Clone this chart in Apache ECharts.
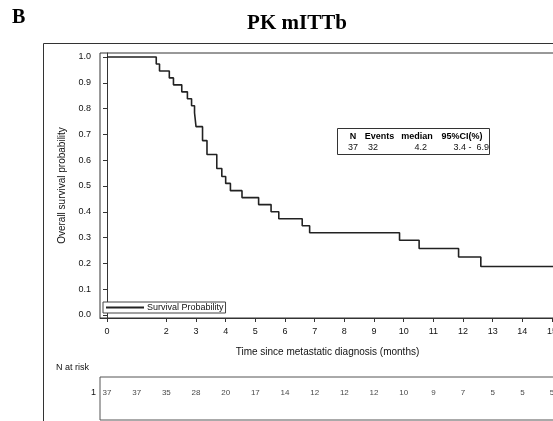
<!DOCTYPE html>
<html>
<head>
<meta charset="utf-8">
<script src="https://cdn.jsdelivr.net/npm/echarts@6/dist/echarts.min.js"></script>
<style>
html,body{margin:0;padding:0;background:#fff;}
#c{width:553px;height:421px;}
</style>
</head>
<body>
<div id="c"></div>
<script>
// Kaplan-Meier step points (time in months, survival probability)
const kmTimes = [0, 1.66, 1.77, 2.1, 2.24, 2.52, 2.71, 2.85, 2.95, 3.0, 3.22, 3.37, 3.7, 3.87, 4.0, 4.16, 4.55, 5.11, 5.53, 5.79, 6.58, 6.83, 9.86, 10.52, 11.85, 12.6, 16];
const kmSurv  = [1.0, 0.973, 0.946, 0.919, 0.892, 0.865, 0.838, 0.811, 0.784, 0.730, 0.676, 0.622, 0.568, 0.537, 0.510, 0.482, 0.455, 0.428, 0.400, 0.373, 0.346, 0.319, 0.290, 0.258, 0.225, 0.188, 0.188];
// axis ticks
const xTickValues = [0, 2, 3, 4, 5, 6, 7, 8, 9, 10, 11, 12, 13, 14, 15];
const yTickValues = [0, 0.1, 0.2, 0.3, 0.4, 0.5, 0.6, 0.7, 0.8, 0.9, 1.0];
// number at risk
const riskTimes = [0, 1, 2, 3, 4, 5, 6, 7, 8, 9, 10, 11, 12, 13, 14, 15];
const riskCounts = [37, 37, 35, 28, 20, 17, 14, 12, 12, 12, 10, 9, 7, 5, 5, 5];
// summary table
const statHeader = ['N', 'Events', 'median', '95%CI(%)'];
const statValues = ['37', '32', '4.2', '3.4 -  6.9'];

const kmData = kmTimes.map((t, i) => [t, kmSurv[i]]);
const riskRowY = 0.63;
const riskData = riskTimes.map((t, i) => [t, riskRowY, riskCounts[i]]);

const sans = 'Liberation Sans, Arial, sans-serif';
const serif = 'Liberation Serif, Times New Roman, serif';
const XMIN = -0.236, XMAX = 15.1;

const chart = echarts.init(document.getElementById('c'), null, {renderer: 'canvas'});
chart.setOption({
  animation: false,
  backgroundColor: '#fff',
  grid: [
    {left: 100, top: 53, right: -2, bottom: 103, show: true, borderColor: '#333', borderWidth: 1,
     containLabel: false, outerBoundsMode: 'none'},
    {left: 100, top: 377, right: -2, bottom: 1, show: true, borderColor: '#555', borderWidth: 1,
     containLabel: false, outerBoundsMode: 'none'}
  ],
  xAxis: [
    {
      type: 'value', gridIndex: 0, min: XMIN, max: XMAX,
      splitLine: {show: false},
      axisLine: {show: true, onZero: false, lineStyle: {color: '#333'}},
      axisTick: {show: true, length: 4, customValues: xTickValues, lineStyle: {color: '#333'}},
      axisLabel: {customValues: xTickValues, margin: 9, fontSize: 9, color: '#111', fontFamily: sans},
      name: 'Time since metastatic diagnosis (months)',
      nameLocation: 'middle', nameGap: 29,
      nameTextStyle: {fontSize: 10, color: '#111', fontFamily: sans}
    },
    {
      type: 'value', gridIndex: 1, min: XMIN, max: XMAX,
      show: false, splitLine: {show: false}
    }
  ],
  yAxis: [
    {
      type: 'value', gridIndex: 0, min: -0.0116, max: 1.0155,
      splitLine: {show: false},
      axisLine: {show: true, lineStyle: {color: '#333'}},
      axisTick: {show: true, length: 4, customValues: yTickValues, lineStyle: {color: '#333'}},
      axisLabel: {customValues: yTickValues, margin: 9, fontSize: 9, color: '#111', fontFamily: sans,
                  formatter: v => v.toFixed(1)},
      name: 'Overall survival probability',
      nameLocation: 'middle', nameGap: 33,
      nameTextStyle: {fontSize: 10, color: '#111', fontFamily: sans}
    },
    {
      type: 'value', gridIndex: 1, min: 0, max: 1,
      splitLine: {show: false},
      axisLine: {show: false}, axisTick: {show: false},
      axisLabel: {customValues: [riskRowY], formatter: () => '1', margin: 4, fontSize: 9, color: '#111', fontFamily: sans}
    }
  ],
  legend: {
    left: 103, top: 302,
    data: ['Survival Probability'],
    icon: 'rect', itemWidth: 38, itemHeight: 2,
    itemGap: 3,
    padding: [1, 2, 1, 3],
    borderColor: '#444', borderWidth: 1, borderRadius: 0,
    backgroundColor: '#fff',
    textStyle: {fontSize: 9, color: '#111', fontFamily: sans, padding: [0, 0, 0, -2]}
  },
  series: [
    {
      name: 'Survival Probability', type: 'line', step: 'end',
      xAxisIndex: 0, yAxisIndex: 0,
      data: kmData, showSymbol: false, symbol: 'none',
      lineStyle: {color: '#222', width: 1.6},
      itemStyle: {color: '#222'}
    },
    {
      name: 'risk', type: 'scatter', xAxisIndex: 1, yAxisIndex: 1,
      data: riskData, symbolSize: 0,
      label: {show: true, position: 'inside', formatter: p => String(p.value[2]),
              fontSize: 8, color: '#111', fontFamily: sans}
    }
  ],
  graphic: [
    {type: 'rect', shape: {x: 43.5, y: 43.5, width: 700, height: 500},
     style: {fill: 'none', stroke: '#333', lineWidth: 1}, silent: true},
    {type: 'text', left: 12, top: 8, style: {text: 'B', font: 'bold 20px ' + serif, fill: '#000'}},
    {type: 'text', x: 297, y: 24, style: {text: 'PK mITTb', font: 'bold 21px ' + serif, fill: '#000', textAlign: 'center', textVerticalAlign: 'middle'}},
    {type: 'text', x: 56, y: 368, style: {text: 'N at risk', font: '9px ' + sans, fill: '#111', textVerticalAlign: 'middle'}},
    {type: 'rect', shape: {x: 337.5, y: 128.5, width: 152, height: 26},
     style: {fill: '#fff', stroke: '#333', lineWidth: 1}},
    {type: 'text', x: 353, y: 136.5, style: {text: statHeader[0], font: 'bold 9px ' + sans, fill: '#000', textAlign: 'center', textVerticalAlign: 'middle'}},
    {type: 'text', x: 379.5, y: 136.5, style: {text: statHeader[1], font: 'bold 9px ' + sans, fill: '#000', textAlign: 'center', textVerticalAlign: 'middle'}},
    {type: 'text', x: 417, y: 136.5, style: {text: statHeader[2], font: 'bold 9px ' + sans, fill: '#000', textAlign: 'center', textVerticalAlign: 'middle'}},
    {type: 'text', x: 462, y: 136.5, style: {text: statHeader[3], font: 'bold 9px ' + sans, fill: '#000', textAlign: 'center', textVerticalAlign: 'middle'}},
    {type: 'text', x: 353, y: 148, style: {text: statValues[0], font: '9px ' + sans, fill: '#111', textAlign: 'center', textVerticalAlign: 'middle'}},
    {type: 'text', x: 373, y: 148, style: {text: statValues[1], font: '9px ' + sans, fill: '#111', textAlign: 'center', textVerticalAlign: 'middle'}},
    {type: 'text', x: 427, y: 148, style: {text: statValues[2], font: '9px ' + sans, fill: '#111', textAlign: 'right', textVerticalAlign: 'middle'}},
    {type: 'text', x: 489, y: 148, style: {text: statValues[3], font: '9px ' + sans, fill: '#111', textAlign: 'right', textVerticalAlign: 'middle'}}
  ]
});
</script>
</body>
</html>
